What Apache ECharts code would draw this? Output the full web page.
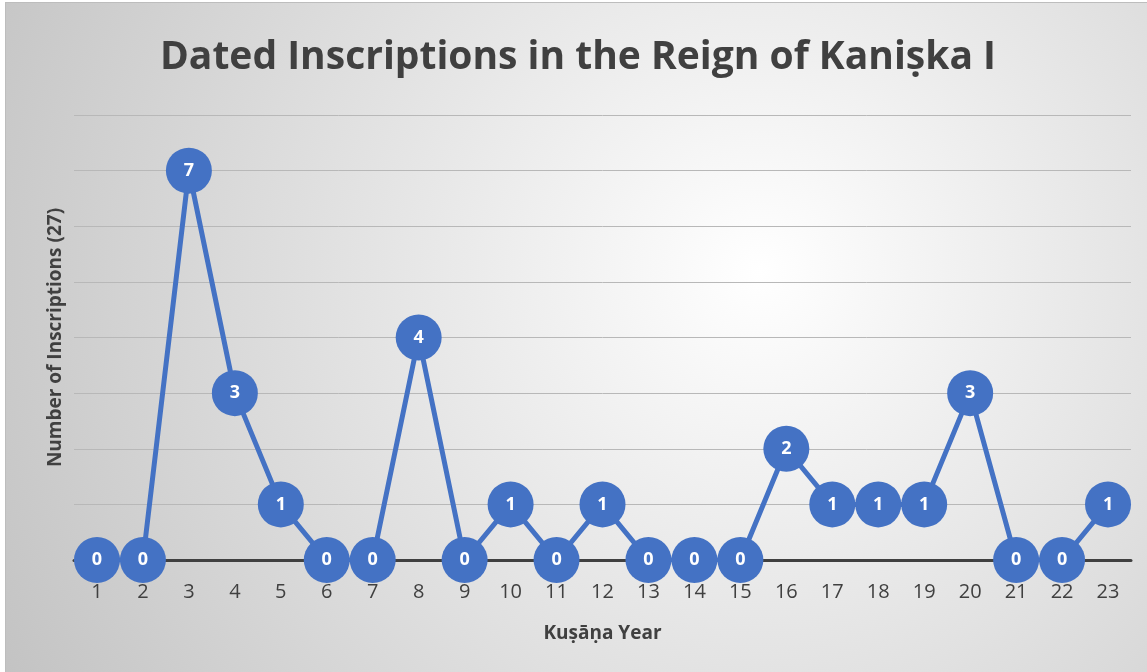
<!DOCTYPE html>
<html>
<head>
<meta charset="utf-8">
<script src="https://cdn.jsdelivr.net/npm/echarts@6/dist/echarts.min.js"></script>
<style>
  html, body { margin: 0; padding: 0; background: #ffffff; }
  #chart {
    position: absolute;
    left: 5px;
    top: 2px;
    width: 1142px;
    height: 670px;
    border-left: 1px solid #bdbdbd;
    border-top: 1px solid #bdbdbd;
  }
</style>
</head>
<body>
<div id="chart"></div>
<script>
let years = ["1", "2", "3", "4", "5", "6", "7", "8", "9", "10", "11", "12",
  "13", "14", "15", "16", "17", "18", "19", "20", "21", "22", "23"];
let counts = [0, 0, 7, 3, 1, 0, 0, 4, 0, 1, 0, 1, 0, 0, 0, 2, 1, 1, 1, 3, 0, 0, 1];

let font = "'Open Sans', 'DejaVu Sans', sans-serif";

let myChart = echarts.init(document.getElementById("chart"), null, { renderer: "canvas" });

let option = {
  backgroundColor: {
    type: "radial",
    x: 0.66,
    y: 0.4,
    r: 1.3,
    colorStops: [
      { offset: 0, color: "#ffffff" },
      { offset: 1, color: "#c2c2c2" }
    ]
  },
  title: {
    text: "Dated Inscriptions in the Reign of Kaniṣka I",
    left: 149,
    top: 30,
    textStyle: {
      fontFamily: font,
      fontWeight: "bold",
      fontSize: 39,
      color: "#404040"
    }
  },
  grid: {
    left: 68,
    right: 17,
    top: 112,
    bottom: 113
  },
  xAxis: {
    type: "category",
    data: years,
    boundaryGap: true,
    name: "Kuṣāṇa Year",
    nameLocation: "middle",
    nameGap: 64,
    nameTextStyle: {
      fontFamily: font,
      fontWeight: "bold",
      fontSize: 19,
      color: "#404040"
    },
    axisLine: { lineStyle: { color: "#404040", width: 3 } },
    axisTick: { show: false },
    axisLabel: {
      margin: 22,
      fontFamily: font,
      fontSize: 20,
      color: "#404040"
    }
  },
  yAxis: {
    type: "value",
    min: 0,
    max: 8,
    interval: 1,
    name: "Number of Inscriptions (27)",
    nameLocation: "middle",
    nameGap: 9,
    nameTextStyle: {
      fontFamily: font,
      fontWeight: "bold",
      fontSize: 19,
      color: "#404040"
    },
    axisLine: { show: false },
    axisTick: { show: false },
    axisLabel: { show: false },
    splitLine: { lineStyle: { color: "#b8b8b8", width: 1 } }
  },
  series: [
    {
      type: "line",
      data: counts,
      clip: false,
      symbol: "circle",
      symbolSize: 46,
      lineStyle: { color: "#4472c4", width: 5 },
      itemStyle: { color: "#4472c4" },
      label: {
        show: true,
        position: "inside",
        fontFamily: font,
        fontWeight: "bold",
        fontSize: 18,
        color: "#ffffff"
      }
    }
  ]
};

myChart.setOption(option);
window.addEventListener("resize", myChart.resize);
</script>
</body>
</html>
